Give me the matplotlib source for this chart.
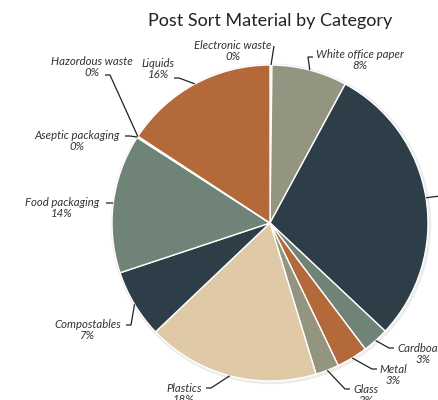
import numpy as np
import matplotlib
matplotlib.use("Agg")
import matplotlib.pyplot as plt
from matplotlib.patches import Circle

plt.rcParams['font.family'] = ['Lato', 'DejaVu Sans']

# data, clockwise from 12 o'clock
categories = ["Electronic waste", "White office paper", "Mixed paper", "Cardboard", "Metal",
              "Glass", "Plastics", "Compostables", "Food packaging", "Aseptic packaging",
              "Hazordous waste", "Liquids"]
values = [0.2, 7.7, 29.1, 2.7, 3.2, 2.4, 17.6, 7.0, 14.2, 0.1, 0.05, 15.75]
colors = ["#f4f4f4", "#949580", "#2e3e48", "#6f8376", "#b4693b", "#949580",
          "#dfc9a6", "#2e3e48", "#6f8376", "#f4f4f4", "#f4f4f4", "#b4693b"]

W, H = 438, 400
CX, CY, R = 270, 223, 158


def px(x, y):
    # pixel coords -> data coords (pie radius = 1)
    return (x - CX) / R, (CY - y) / R


# label block centre and leader stub end (pixels), stub direction
label_pos = [(233, 51), (360, 60), (482, 203), (423, 354), (393, 375), (366, 395),
             (184, 394), (88, 330), (62, 208), (77, 141), (92, 67), (158, 69)]
stub_pos = [(274, 46), (313, 57), (445, 196), (394, 348), (377, 369), (350, 389),
            (206, 388), (126, 325), (106, 203), (125, 136), (105, 75), (174, 78)]
stub_dir = [0, -1, -1, -1, -1, -1, 1, 1, 1, 1, 1, 1]

fig = plt.figure(figsize=(W / 100, H / 100), dpi=100)
ax = fig.add_axes([0, 0, 1, 1])
ax.axis('off')

# soft shadow
ax.add_patch(Circle((0.006, -0.006), 1.01, color='#e0e0e0', alpha=0.5, zorder=0))

wedges, _ = ax.pie(values, colors=colors, startangle=90, counterclock=False, radius=1,
                   wedgeprops=dict(edgecolor='white', linewidth=1.0))
ax.set_aspect('auto')
ax.set_xlim(-CX / R, (W - CX) / R)
ax.set_ylim(-(H - CY) / R, CY / R)

total = sum(values)
cum = 0
for i, (name, v) in enumerate(zip(categories, values)):
    mid = (cum + v / 2) / total * 2 * np.pi
    cum += v
    ex, ey = np.sin(mid) * 1.0, np.cos(mid) * 1.0
    sx, sy = px(*stub_pos[i])
    elbow_x = sx + stub_dir[i] * 5 / R
    ax.plot([ex, elbow_x, sx], [ey, sy, sy], color='#222222', lw=0.9, zorder=3,
            solid_capstyle='butt')
    tx, ty = px(*label_pos[i])
    ax.text(tx, ty, f"{name}\n{round(v)}%", ha='center', va='center', fontsize=8.2,
            style='italic', color='#333333', linespacing=1.1, zorder=4)

ax.text(*px(270, 21), "Post Sort Material by Category", ha='center', va='center',
        fontsize=13, color='#222222')

fig.savefig("out.png", dpi=100)
